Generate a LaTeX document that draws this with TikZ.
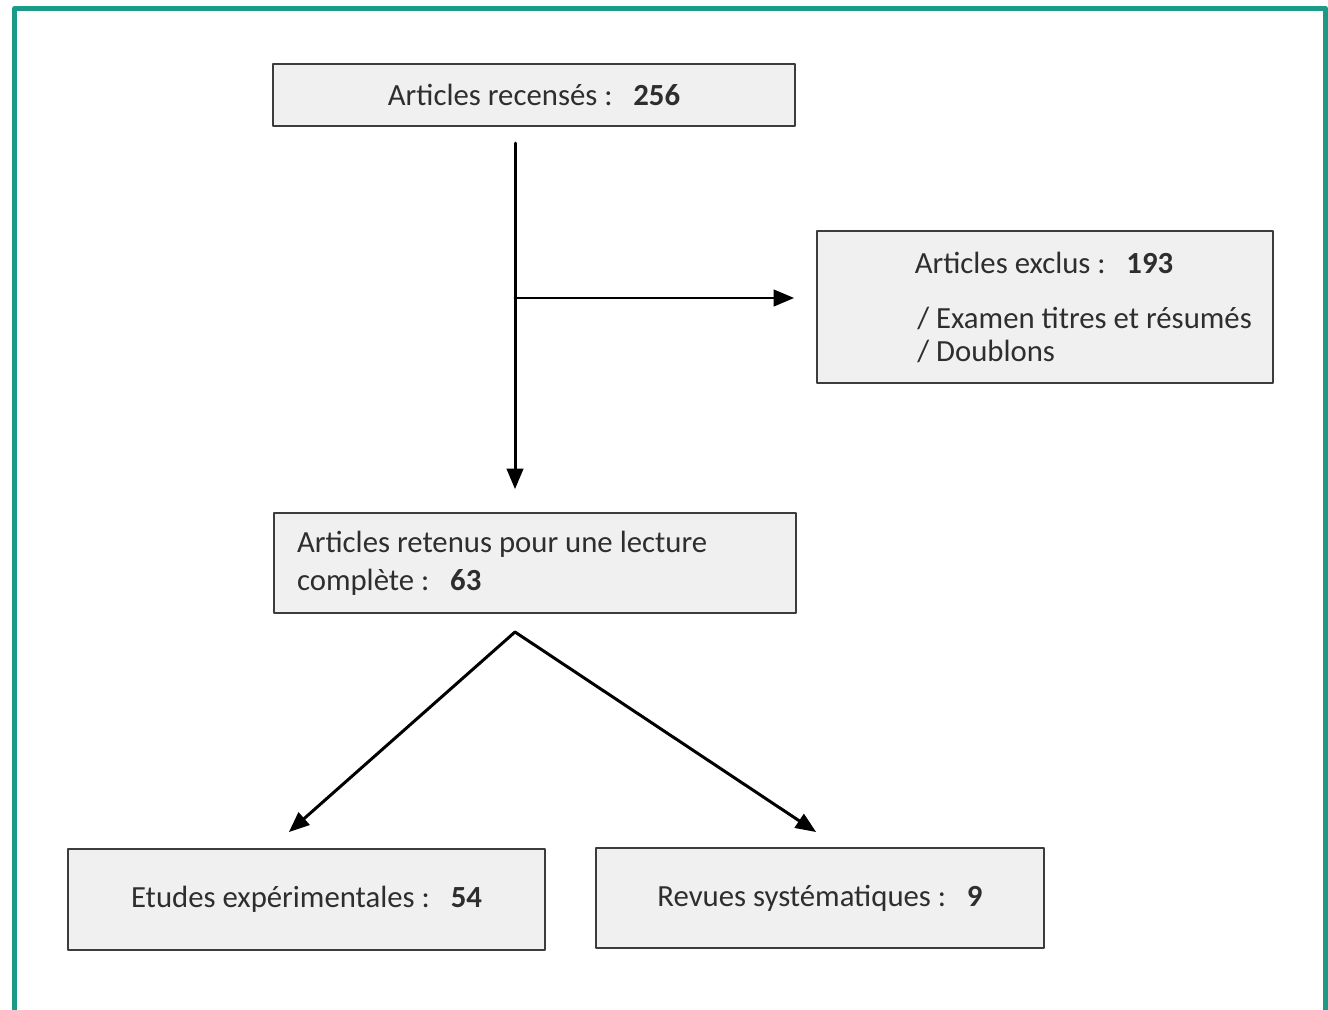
\documentclass[tikz,border=0pt]{standalone}
\usepackage{fontspec}
\setmainfont{Carlito}
\usetikzlibrary{arrows,calc}
\definecolor{cadre}{HTML}{1A9A87}
\definecolor{fond}{HTML}{F0F0F0}
\definecolor{trait}{HTML}{3C3C3C}
\definecolor{texte}{HTML}{2E2E2E}
\tikzset{boite/.style={draw=trait,line width=1.2pt,fill=fond,text=texte},
	fleche/.style={->,line width=1.7pt,color=black}}

\begin{document}
\begin{tikzpicture}[line cap=round,line join=round,>=triangle 45,x=0.02cm,y=-0.02cm,font=\fontsize{17.5}{21.5}\selectfont]
		\useasboundingbox (0,0) rectangle (1328,1010);
		\clip (0,0) rectangle (1328,1010);
		\draw[cadre,line width=2.8pt,line cap=butt] (14.5,1030) -- (14.5,8.5) -- (1325.5,8.5) -- (1325.5,1030);
		% boites
		\node[boite,minimum width=10.44cm,minimum height=1.24cm] (recenses) at (534,95) {Articles recensés :\ \ \ \textbf{256}};
		\node[boite,minimum width=9.12cm,minimum height=3.04cm] (exclus) at (1045,307) {};
		\node[text=texte] (exclustitre) at (1044,263) {Articles exclus :\ \ \ \textbf{193}};
		\node[text=texte,anchor=west,align=flush left,inner sep=0pt,font=\fontsize{17.5}{19.3}\selectfont] (excluscauses) at (917,335) {/ Examen titres et résumés\\/ Doublons};
		\node[boite,minimum width=10.44cm,minimum height=2cm,inner xsep=0.46cm,text width=9.52cm,align=flush left] (retenus) at (535,563) {Articles retenus pour une lecture\\complète :\ \ \ \textbf{63}};
		\node[boite,minimum width=9.54cm,minimum height=2.02cm] (etudes) at (306.5,899.5) {Etudes expérimentales :\ \ \ \textbf{54}};
		\node[boite,minimum width=8.96cm,minimum height=2cm] (revues) at (820,898) {Revues systématiques :\ \ \ \textbf{9}};
		% fleches
		\coordinate (coude) at (515,298);
		\coordinate (sommet) at (515,632);
		\draw[fleche,shorten <=0.32cm,shorten >=0.46cm] (recenses.south -| coude) -- (retenus.north -| coude);
		\draw[fleche,shorten >=0.44cm] (coude) -- (exclus.west |- coude);
		\draw[fleche] (sommet) -- ($(etudes.north)+(-17.5,-16)$);
		\draw[fleche] (sommet) -- ($(revues.north)+(-4,-15)$);
	\end{tikzpicture}
\end{document}
